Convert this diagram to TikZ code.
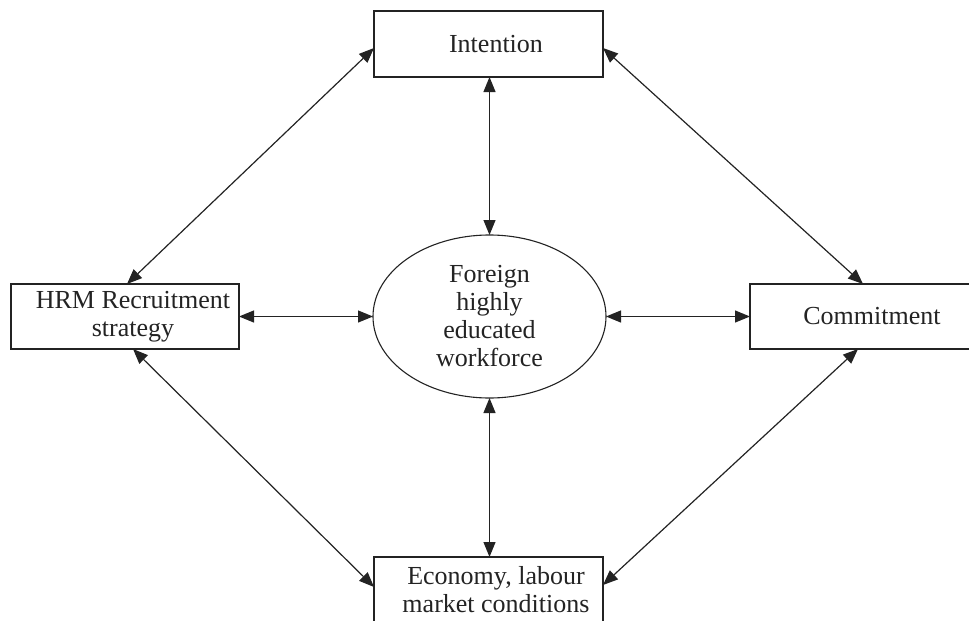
\documentclass[tikz,border=0pt]{standalone}
\usepackage{fontspec}
\setmainfont{Liberation Serif}
\usetikzlibrary{arrows.meta,shapes.geometric}

\definecolor{ink}{RGB}{35,35,35}

\tikzset{
  box/.style={draw=ink, line width=1.3pt, rectangle, inner sep=0pt, outer sep=0pt},
  hub/.style={draw=ink, line width=1.1pt, ellipse, inner sep=0pt, outer sep=0pt,
              minimum width=233pt, minimum height=163pt},
  txt/.style={text=ink, align=center, font=\fontsize{26}{28}\selectfont, inner sep=0pt},
  link/.style={draw=ink, line width=1.2pt, {Triangle[length=15pt,width=12pt]}-{Triangle[length=15pt,width=12pt]}},
}

\begin{document}
\begin{tikzpicture}[x=1pt,y=-1pt]
  \clip (0,0) rectangle (969,621);
  \useasboundingbox (0,0) rectangle (969,621);

  % frames
  \node[box, minimum width=229pt, minimum height=66pt] (top)   at (488.5,44)    {};
  \node[box, minimum width=228pt, minimum height=65pt] (left)  at (125,316.5)   {};
  \node[box, minimum width=240pt, minimum height=65pt] (right) at (870,316.5)   {};
  \node[box, minimum width=229pt, minimum height=66pt] (bot)   at (488.5,590)   {};
  \node[hub] (mid) at (489.5,316.5) {};

  % texts
  \node[txt] (ttop)   at (496,44)    {Intention};
  \node[txt] (tleft)  at (133,316.5) {HRM Recruitment\\strategy};
  \node[txt] (tright) at (872,316.5) {Commitment};
  \node[txt] (tbot)   at (496,590)   {Economy, labour\\market conditions};
  \node[txt] (tmid)   at (489.5,316.5) {Foreign\\highly\\educated\\workforce};

  % links to the centre
  \draw[link] (top.south -| mid.north) -- (mid.north);
  \draw[link] (mid.south) -- (bot.north -| mid.south);
  \draw[link] (left.east) -- (mid.west);
  \draw[link] (mid.east) -- (right.west);

  % links around the outside
  \draw[link] ([yshift=-4pt]top.west) -- ([xshift=2pt]left.north);
  \draw[link] ([yshift=-4pt]top.east) -- ([xshift=-7pt]right.north);
  \draw[link] ([xshift=8pt]left.south) -- ([yshift=3pt]bot.west);
  \draw[link] ([xshift=-12pt]right.south) -- ([yshift=5pt]bot.east);
\end{tikzpicture}
\end{document}
